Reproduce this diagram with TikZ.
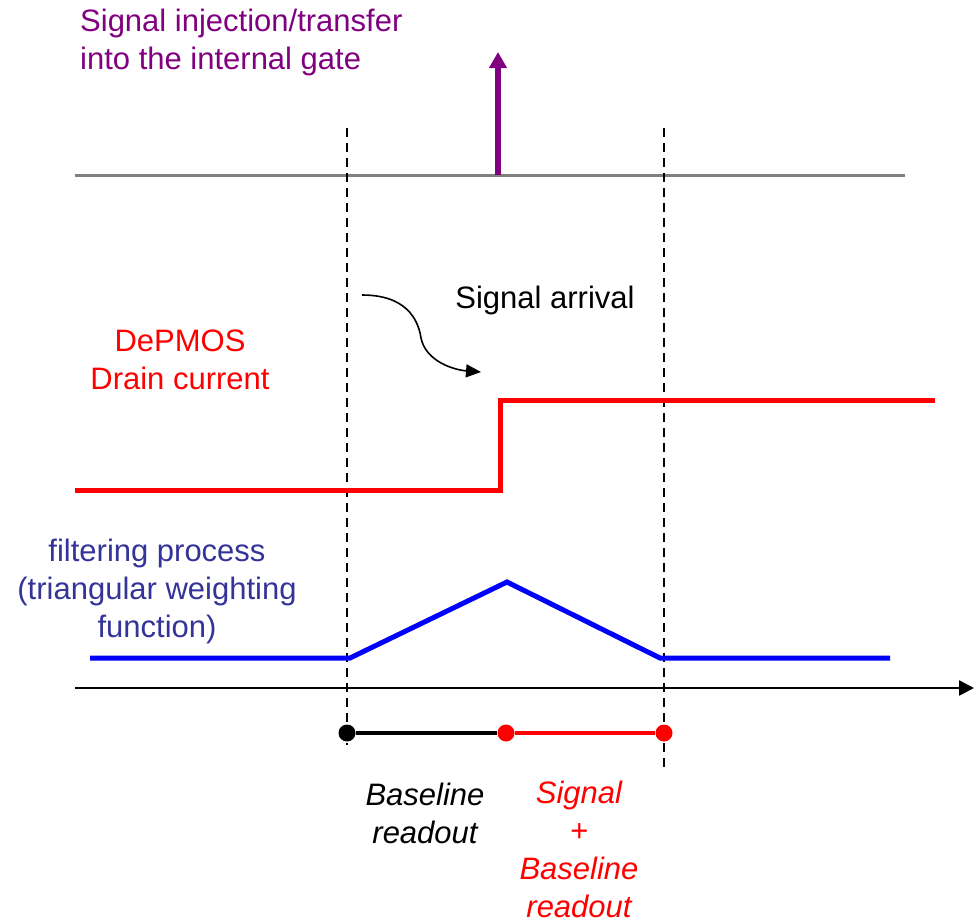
\documentclass[tikz,border=0pt]{standalone}
\usepackage{fontspec}
\setmainfont{Liberation Sans}
\usetikzlibrary{arrows.meta}
\definecolor{purp}{RGB}{128,0,128}
\definecolor{grayl}{RGB}{128,128,128}
\definecolor{bluetext}{RGB}{51,51,153}
\begin{document}
\begin{tikzpicture}[x=1pt,y=-1pt,
  lbl/.style={inner sep=0pt,font=\fontsize{31}{38}\selectfont},
  dashv/.style={black,line width=2.5pt,dash pattern=on 9pt off 6pt},
  dotm/.style={circle,inner sep=0pt,minimum size=17pt}]
\useasboundingbox (0,0) rectangle (974,922);
% top text
\node[lbl,purp,anchor=west,align=left] (inj) at (80,42) {Signal injection/transfer\\into the internal gate};
% gray line
\coordinate (gL) at (75,175);
\coordinate (gR) at (905,175);
\draw[grayl,line width=3pt] (gL) -- (gR);
% purple arrow
\coordinate (pB) at (498,175);
\coordinate (pT) at (498,52);
\draw[purp,line width=5.5pt,-{Triangle[length=16pt,width=17pt]}] (pB) -- (pT);
% dashed lines
\coordinate (d1t) at (347,128);
\coordinate (d1b) at (347,745);
\coordinate (d2t) at (664,128);
\coordinate (d2b) at (664,770);
\draw[dashv] (d1t) -- (d1b);
\draw[dashv] (d2t) -- (d2b);
% signal arrival
\node[lbl,black] (arr) at (545,300) {Signal arrival};
\coordinate (cs) at (362,295);
\coordinate (ce) at (481,372);
\draw[black,line width=1.6pt,-{Triangle[length=15pt,width=13pt]}] (cs) .. controls (405,295) and (418,318) .. (421,338) .. controls (426,362) and (455,370) .. (ce);
% red text and line
\node[lbl,red,align=center] (dep) at (180,360) {DePMOS\\Drain current};
\coordinate (r1) at (75,490);
\coordinate (r2) at (500,490);
\coordinate (r3) at (500,400);
\coordinate (r4) at (935,400);
\draw[red,line width=5pt] (r1) -- (r2) -- (r3) -- (r4);
% blue text and line
\node[lbl,bluetext,align=center] (filt) at (157,591) {filtering process\\(triangular weighting\\function)};
\coordinate (b1) at (90,658);
\coordinate (b2) at (350,658);
\coordinate (b3) at (507,582);
\coordinate (b4) at (660,658);
\coordinate (b5) at (890,658);
\draw[blue,line width=5pt] (b1) -- (b2) -- (b3) -- (b4) -- (b5);
% axis
\coordinate (a1) at (75,688);
\coordinate (a2) at (974,688);
\draw[black,line width=2.5pt,-{Triangle[length=15pt,width=15pt]}] (a1) -- (a2);
% readout intervals
\node[dotm,fill=black] (k1) at (347,733) {};
\node[dotm,fill=red] (k2) at (506,733) {};
\node[dotm,fill=red] (k3) at (664,733) {};
\draw[black,line width=4.5pt] (k1) -- (k2);
\draw[red,line width=4.5pt] (k2) -- (k3);
\node[lbl,black,align=center,font=\fontsize{31}{38}\selectfont\itshape] (base) at (425,813) {Baseline\\readout};
\node[lbl,red,align=center,font=\fontsize{31}{38}\selectfont\itshape] (sig) at (579,849) {Signal\\+\\Baseline\\readout};
\end{tikzpicture}
\end{document}
